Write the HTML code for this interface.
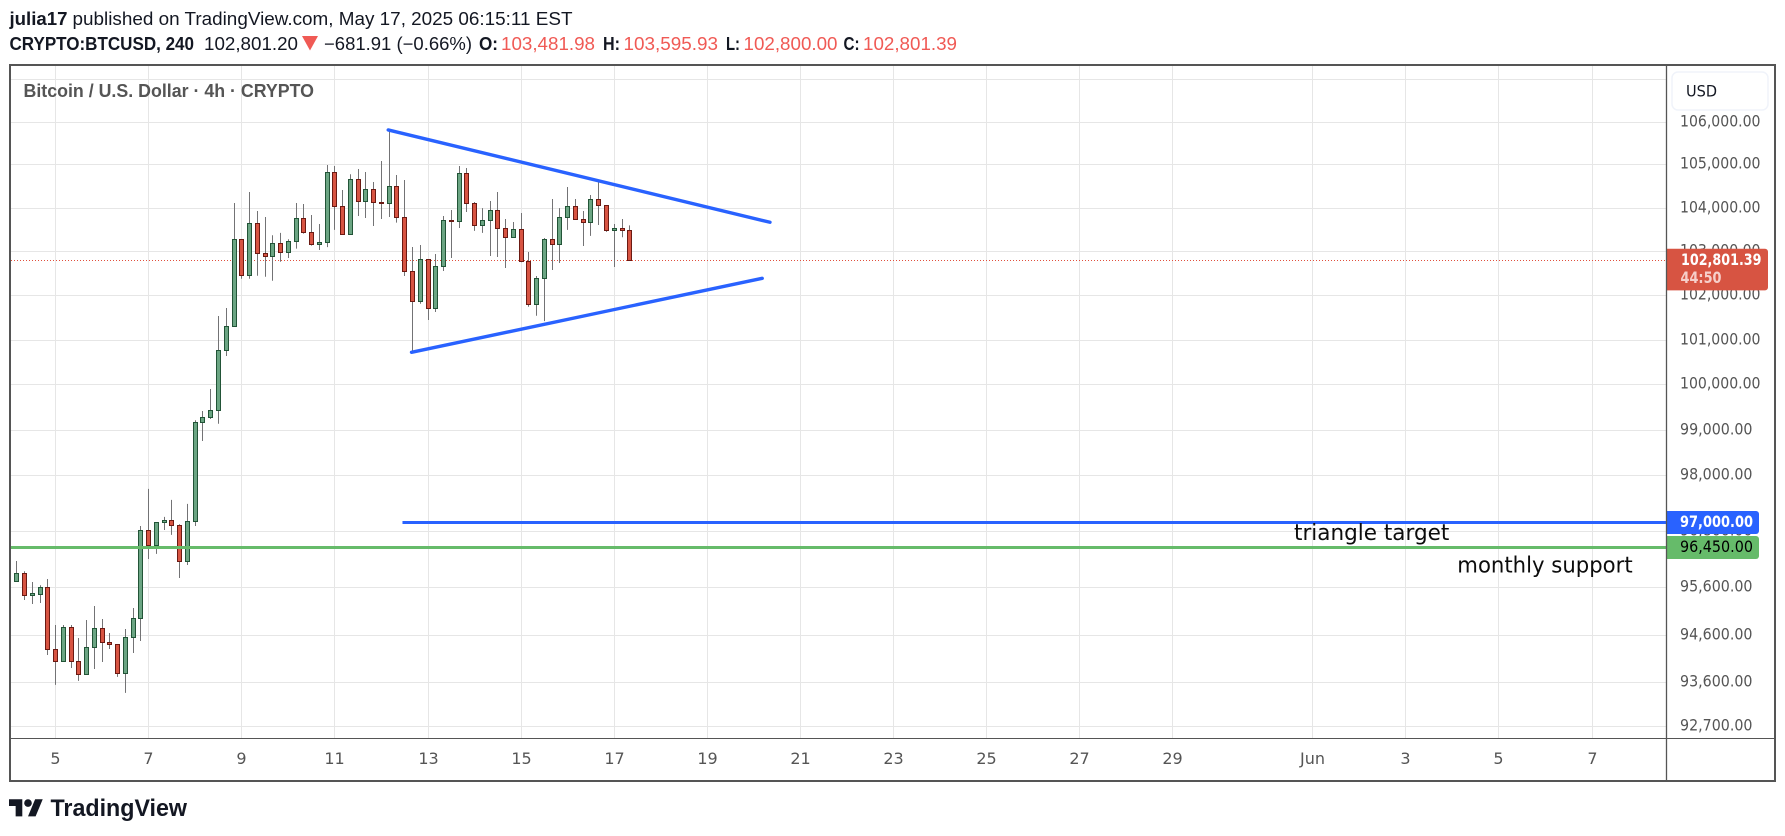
<!DOCTYPE html>
<html lang="en">
<head>
<meta charset="utf-8">
<title>BTCUSD chart</title>
<style>
html,body{margin:0;padding:0;background:#fff;width:1785px;height:836px;overflow:hidden}
svg{display:block}
.hd{font-family:"Liberation Sans",sans-serif;font-size:18px;fill:#131722}
.red{fill:#f05a55}
.tick{font-family:"DejaVu Sans",sans-serif;font-size:16px;fill:#555}
.note{font-family:"DejaVu Sans",sans-serif;font-size:22.5px;fill:#0c0c0c}
</style>
</head>
<body>
<svg id="root" width="1785" height="836" viewBox="0 0 1785 836" xmlns="http://www.w3.org/2000/svg">
  <g>
    <text class="hd" x="9.5" y="25" font-weight="700" textLength="58" lengthAdjust="spacingAndGlyphs">julia17</text>
    <text class="hd" x="72.5" y="25" textLength="500" lengthAdjust="spacingAndGlyphs">published on TradingView.com, May 17, 2025 06:15:11 EST</text>
  </g>
  <g>
    <text class="hd" x="9.5" y="50" font-weight="700" textLength="184.5" lengthAdjust="spacingAndGlyphs">CRYPTO:BTCUSD, 240</text>
    <text class="hd" x="204" y="50" textLength="94" lengthAdjust="spacingAndGlyphs">102,801.20</text>
    <polygon points="302,36 318,36 310,50.5" fill="#f05a55"/>
    <text class="hd" x="324" y="50" textLength="148" lengthAdjust="spacingAndGlyphs">−681.91 (−0.66%)</text>
    <text class="hd" x="479" y="50" font-weight="700" textLength="19" lengthAdjust="spacingAndGlyphs">O:</text>
    <text class="hd red" x="501" y="50" textLength="94" lengthAdjust="spacingAndGlyphs">103,481.98</text>
    <text class="hd" x="603" y="50" font-weight="700" textLength="17" lengthAdjust="spacingAndGlyphs">H:</text>
    <text class="hd red" x="623.5" y="50" textLength="94.5" lengthAdjust="spacingAndGlyphs">103,595.93</text>
    <text class="hd" x="726" y="50" font-weight="700" textLength="14" lengthAdjust="spacingAndGlyphs">L:</text>
    <text class="hd red" x="743.5" y="50" textLength="94" lengthAdjust="spacingAndGlyphs">102,800.00</text>
    <text class="hd" x="843.5" y="50" font-weight="700" textLength="16" lengthAdjust="spacingAndGlyphs">C:</text>
    <text class="hd red" x="863" y="50" textLength="94" lengthAdjust="spacingAndGlyphs">102,801.39</text>
  </g>

  <defs>
    <clipPath id="paneClip"><rect x="11" y="66" width="1655" height="672"/></clipPath>
  </defs>
  <g id="grid" clip-path="url(#paneClip)"></g>
  <g id="candles" clip-path="url(#paneClip)"></g>
  <g id="drawings" clip-path="url(#paneClip)"></g>

  <text x="23.5" y="97" font-family="'Liberation Sans',sans-serif" font-size="18" font-weight="700" fill="#555" textLength="290.5" lengthAdjust="spacingAndGlyphs">Bitcoin / U.S. Dollar · 4h · CRYPTO</text>
  <text class="note" x="1294" y="540" textLength="155.3" lengthAdjust="spacingAndGlyphs">triangle target</text>
  <text class="note" x="1457.3" y="572.5" textLength="175.4" lengthAdjust="spacingAndGlyphs">monthly support</text>

  <g id="priceAxis"></g>
  <g id="timeAxis"></g>
  <g id="priceLabels"></g>

  <g>
    <rect x="1672" y="72" width="96" height="38" rx="6" fill="#fff" stroke="#f0f3fa" stroke-width="1.5"/>
    <text x="1686" y="96.5" font-family="'DejaVu Sans',sans-serif" font-size="16" fill="#131722" textLength="31" lengthAdjust="spacingAndGlyphs">USD</text>
  </g>

  <rect x="10" y="65" width="1765" height="716" fill="none" stroke="#555" stroke-width="2"/>
  <line x1="1666.5" y1="65" x2="1666.5" y2="781" stroke="#555" stroke-width="1.3"/>
  <line x1="10" y1="738.5" x2="1775" y2="738.5" stroke="#555" stroke-width="1"/>

  <g>
    <g transform="translate(9,795.5) scale(0.95)" fill="#131722">
      <path d="M14 22H7V11H0V4h14v18zM28 22h-8l7.5-18h8L28 22z"/>
      <circle cx="20" cy="8" r="4"/>
    </g>
    <text x="50.5" y="816" font-family="'Liberation Sans',sans-serif" font-size="24" font-weight="700" fill="#131722" textLength="136.5" lengthAdjust="spacingAndGlyphs">TradingView</text>
  </g>
</svg>

<script>
// ---- chart data ----
const openPrices = [95900,95743,95900,95434,95468,95604,94296,94045,94758,94045,93776,94338,94737,94443,94401,93797,94548,94947,96820,96499,96991,97037,96927,96157,97013,99167,99277,99432,100764,101303,103279,102455,103645,102957,102888,103187,102979,103233,103760,103439,103164,103210,104824,104035,103393,104661,104151,104429,104140,104103,104499,103782,102546,101865,102820,101708,102660,103714,103691,104800,104104,103599,103714,103943,103531,103324,103508,102774,101797,102387,103279,103163,103782,104035,103737,103668,104197,104058,103485,103531,103481.98];
const highPrices = [95900,96163,95943,95716,95646,95780,94807,94807,94807,94534,94912,95207,94933,94639,94401,94723,95165,96912,97713,96991,97108,97475,96949,97389,99212,99417,99903,101534,101714,104111,103279,104367,103927,103789,103370,103423,103279,104111,104088,103835,103629,104993,104970,104413,104777,104900,104831,104599,105086,105813,104761,104645,103101,103146,102820,102941,103812,103950,104970,104923,104135,103995,104158,104367,103743,103675,103881,102986,102439,103307,104205,103995,104483,104205,103927,104297,104592,104058,103629,103743,103595.93];
const lowPrices = [95700,95722,95334,95250,95271,94177,93555,94045,93907,93638,93776,93886,94030,94303,93721,93389,94219,94471,96206,96313,96827,96720,95801,96078,96912,98758,99240,99136,100637,101303,102378,102378,102446,102423,102332,102765,102850,103063,103407,103132,103032,103099,103492,103393,103393,103812,103766,103583,103743,103789,103659,102439,100732,101811,101443,101624,102553,102850,103537,103904,103469,103423,102895,102872,102622,103324,102751,101743,101541,101420,102576,102736,103492,103737,103123,103355,103606,103446,102644,103324,102800];
const closePrices = [95743,95900,95434,95476,95604,94296,94045,94758,94045,93776,94338,94737,94443,94401,93797,94548,94947,96820,96499,96991,97037,96927,96157,97013,99167,99277,99432,100764,101303,103279,102455,103645,102957,102888,103187,102979,103233,103760,103439,103164,103210,104824,104035,103393,104661,104151,104429,104128,104115,104499,103782,102546,101865,102820,101708,102660,103714,103691,104800,104104,103599,103714,103943,103531,103324,103508,102774,101797,102387,103279,103163,103782,104035,103737,103668,104197,104058,103485,103531,103485,102801.39];

const priceTicks = [107000,106000,105000,104000,103000,102000,101000,100000,99000,98000,96800,95600,94600,93600,92700];
const timeTickDays = [5,7,9,11,13,15,17,19,21,23,25,27,29,32,34,36,38];
const timeTickLabels = ['5','7','9','11','13','15','17','19','21','23','25','27','29','Jun','3','5','7'];

const countdownText = '44:50';
const supportLevel = 96450;
const targetLevel = 97000;
const targetStartIndex = 49;
const upperTrendIndex = [48.9, 98.1];
const upperTrendPrice = [105813, 103668];
const lowerTrendIndex = [51.9, 97.1];
const lowerTrendPrice = [100719, 102387];

// ---- axis functions ----
function xScale(i){ return 55.3 + (i - 6) * 7.76; }
function yScale(p){ return 122 + 4507 * Math.log(106000 / p); }
function dayToIndex(d){ return 6 + (d - 5) * 6; }
function snap(v){ return Math.floor(v + 0.25) + 0.5; }
function fmt(p){ return p.toLocaleString('en-US',{minimumFractionDigits:2,maximumFractionDigits:2}); }

const NS = 'http://www.w3.org/2000/svg';
function mk(tag, attrs, parent){
  const el = document.createElementNS(NS, tag);
  for (const k in attrs) el.setAttribute(k, attrs[k]);
  parent.appendChild(el);
  return el;
}
const gridG = document.getElementById('grid');
const candleG = document.getElementById('candles');
const drawG = document.getElementById('drawings');
const priceG = document.getElementById('priceAxis');
const timeG = document.getElementById('timeAxis');
const labelG = document.getElementById('priceLabels');

const GRID = '#e6e6e6';

// grid + tick labels
priceTicks.forEach(function(p){
  const y = snap(yScale(p));
  const ln = mk('line',{x1:11,x2:1666,y1:y,y2:y,stroke:GRID,'stroke-width':1},gridG);
  
  
  const s = fmt(p);
  const t = mk('text',{class:'tick',x:1680,y:y+4.2,textLength:s.length===10?80.5:72.5,lengthAdjust:'spacingAndGlyphs'},priceG);
  
  
  t.textContent = s;
});
timeTickDays.forEach(function(d,k){
  const x = snap(xScale(dayToIndex(d)));
  const ln = mk('line',{x1:x,x2:x,y1:66,y2:738,stroke:GRID,'stroke-width':1},gridG);
  
  
  const t = mk('text',{class:'tick',x:x,y:764,'text-anchor':'middle'},timeG);
  
  
  t.textContent = timeTickLabels[k];
});

// last price line
const lastClose = closePrices[closePrices.length-1];
const lastY = snap(yScale(lastClose));
const lastLine = mk('line',{x1:11,x2:1666,y1:lastY,y2:lastY,stroke:'#e0503d','stroke-width':1,'stroke-dasharray':'1 2'},gridG);



// candles
openPrices.forEach(function(o,i){
  const c = closePrices[i], up = c >= o;
  const x = snap(xScale(i));
  const g = mk('g',{},candleG);
  
  
  const wick = mk('line',{x1:x,x2:x,y1:yScale(highPrices[i]),y2:yScale(lowPrices[i]),stroke:'#737375','stroke-width':1},g);
  
  
  const top = Math.round(yScale(Math.max(o,c))) + 0.5;
  const bot = Math.round(yScale(Math.min(o,c))) + 0.5;
  const body = mk('rect',{x:x-2,y:top,width:4,height:Math.max(bot-top,0.5),fill:up?'#6ba583':'#d75442',stroke:up?'#225437':'#6b1a13','stroke-width':1},g);
  
  
});

// drawings
const BLUE = '#2962ff', GREEN = '#66bb6a';
const up = mk('line',{x1:xScale(upperTrendIndex[0]),y1:yScale(upperTrendPrice[0]),x2:xScale(upperTrendIndex[1]),y2:yScale(upperTrendPrice[1]),stroke:BLUE,'stroke-width':3.4,'stroke-linecap':'round'},drawG);


const lo = mk('line',{x1:xScale(lowerTrendIndex[0]),y1:yScale(lowerTrendPrice[0]),x2:xScale(lowerTrendIndex[1]),y2:yScale(lowerTrendPrice[1]),stroke:BLUE,'stroke-width':3.4,'stroke-linecap':'round'},drawG);


const tgY = snap(yScale(targetLevel)), spY = snap(yScale(supportLevel));
const tg = mk('line',{x1:xScale(targetStartIndex)+13.5,y1:tgY,x2:1666,y2:tgY,stroke:BLUE,'stroke-width':3},drawG);


const sp = mk('line',{x1:11,y1:spY,x2:1666,y2:spY,stroke:GREEN,'stroke-width':3},drawG);



// price axis labels
function axisLabel(y,h,w,fill,name){
  const r = mk('path',{d:'M1667 '+y+'h'+(w-3)+'a3 3 0 0 1 3 3v'+(h-6)+'a3 3 0 0 1 -3 3h-'+(w-3)+'z',fill:fill},labelG);
  
  
}
axisLabel(yScale(lastClose)-11.4,41.7,101,'#d75442','last-price-label-box');
axisLabel(tgY-11.5,23,92,BLUE,'target-label-box');
axisLabel(spY-11.5,23,92,GREEN,'support-label-box');

const t1 = mk('text',{x:1681,y:yScale(lastClose)+5,'font-family':"'DejaVu Sans',sans-serif",'font-size':16,'font-weight':700,fill:'#fff',textLength:80.5,lengthAdjust:'spacingAndGlyphs'},labelG);


t1.textContent = fmt(lastClose);
const t2 = mk('text',{x:1680.5,y:yScale(lastClose)+23,'font-family':"'DejaVu Sans',sans-serif",'font-size':16,'font-weight':700,fill:'#f6cfca',textLength:41,lengthAdjust:'spacingAndGlyphs'},labelG);


t2.textContent = countdownText;
const t3 = mk('text',{x:1680,y:tgY+4.5,'font-family':"'DejaVu Sans',sans-serif",'font-size':16,'font-weight':700,fill:'#fff',textLength:73,lengthAdjust:'spacingAndGlyphs'},labelG);


t3.textContent = fmt(targetLevel);
const t4 = mk('text',{x:1680,y:spY+4.5,'font-family':"'DejaVu Sans',sans-serif",'font-size':16,fill:'#000',textLength:73,lengthAdjust:'spacingAndGlyphs'},labelG);


t4.textContent = fmt(supportLevel);
</script>
</body>
</html>
